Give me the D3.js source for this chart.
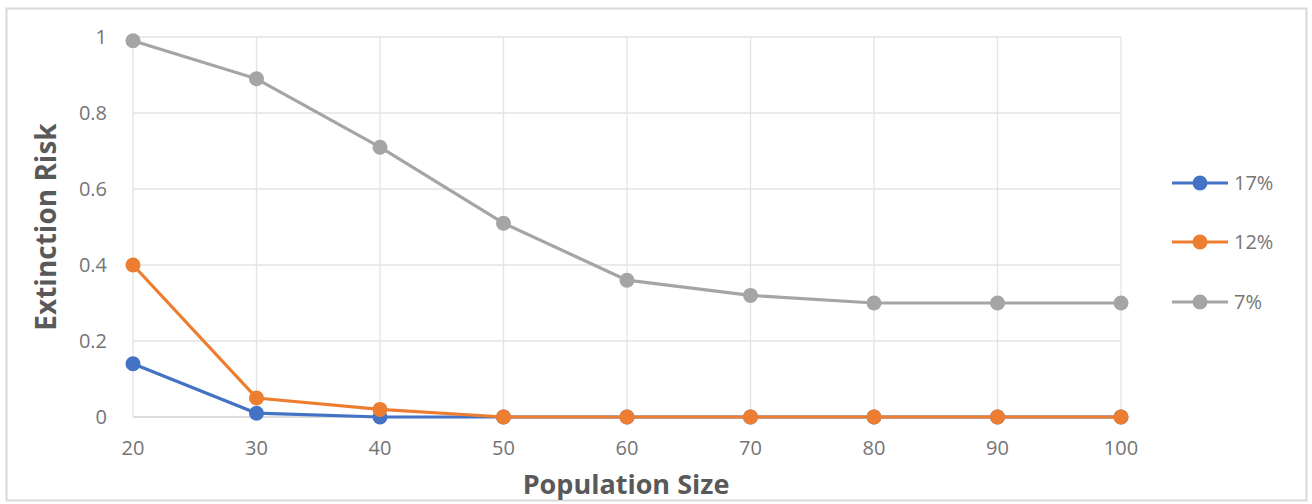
<!DOCTYPE html>
<html><head><meta charset="utf-8">
<script src="https://cdn.jsdelivr.net/npm/d3@7"></script>
<style>body{margin:0;background:#fff;}svg{display:block;font-family:"Open Sans","Noto Sans",sans-serif;}</style>
</head><body><svg id="c" width="1312" height="504"></svg>
<script>
const popSizes = [20, 30, 40, 50, 60, 70, 80, 90, 100];
const s17 = [0.14, 0.01, 0, 0, 0, 0, 0, 0, 0];
const s12 = [0.40, 0.05, 0.02, 0, 0, 0, 0, 0, 0];
const s7  = [0.99, 0.89, 0.71, 0.51, 0.36, 0.32, 0.30, 0.30, 0.30];
const seriesNames = ["17%", "12%", "7%"];
const seriesColors = ["#4472C4", "#ED7D31", "#A5A5A5"];
const yTicks = [0, 0.2, 0.4, 0.6, 0.8, 1];
const yTickLabels = ["0", "0.2", "0.4", "0.6", "0.8", "1"];

const series = [s17, s12, s7];
const svg = d3.select("#c");
svg.append("rect").attr("x",6.5).attr("y",8.5).attr("width",1300).attr("height",492)
  .attr("fill","#fff").attr("stroke","#d9d9d9").attr("stroke-width",2);

const x = d3.scaleLinear().domain([20,100]).range([133,1121]);
const y = d3.scaleLinear().domain([0,1]).range([417,37]);
const g = svg.append("g");

// gridlines
g.selectAll(".hg").data(yTicks).join("line")
  .attr("x1",x(20)).attr("x2",x(100)).attr("y1",d=>y(d)).attr("y2",d=>y(d))
  .attr("stroke",d=>d===0?"#d0d0d0":"#e3e3e3").attr("stroke-width",1.3);
g.selectAll(".vg").data(popSizes).join("line")
  .attr("x1",d=>x(d)).attr("x2",d=>x(d)).attr("y1",y(0)).attr("y2",y(1))
  .attr("stroke","#e3e3e3").attr("stroke-width",1.3);

// tick labels
g.selectAll(".yt").data(yTicks).join("text")
  .attr("x",107).attr("y",d=>y(d)).attr("dy","0.35em").attr("text-anchor","end")
  .attr("fill","#757575").attr("font-size",20).text((d,i)=>yTickLabels[i]);
g.selectAll(".xt").data(popSizes).join("text")
  .attr("x",d=>x(d)).attr("y",455).attr("text-anchor","middle")
  .attr("fill","#757575").attr("font-size",20).text(d=>d);

// axis titles
svg.append("text").attr("x",626).attr("y",494).attr("text-anchor","middle")
  .attr("fill","#595959").attr("font-size",27).attr("font-weight","bold").text("Population Size");
svg.append("text").attr("transform","translate(56,"+y(0.5)+") rotate(-90)").attr("text-anchor","middle")
  .attr("fill","#595959").attr("font-size",28).attr("font-weight","bold").text("Extinction Risk");

const line = d3.line().x((d,i)=>x(popSizes[i])).y(d=>y(d));
const drawOrder = [2, 0, 1];
drawOrder.forEach(k=>{
  const sg = g.append("g");
  sg.append("path").datum(series[k]).attr("d",line).attr("fill","none")
    .attr("stroke",seriesColors[k]).attr("stroke-width",3.2).attr("stroke-linejoin","round");
  sg.selectAll("circle").data(series[k]).join("circle")
    .attr("cx",(d,i)=>x(popSizes[i])).attr("cy",d=>y(d)).attr("r",7.5)
    .attr("fill",seriesColors[k]);
});

// legend
const legY = [183, 242, 302];
seriesNames.forEach((n,i)=>{
  const lg = svg.append("g");
  lg.append("line").attr("x1",1172).attr("x2",1228).attr("y1",legY[i]).attr("y2",legY[i])
    .attr("stroke",seriesColors[i]).attr("stroke-width",3.2);
  lg.append("circle").attr("cx",1200).attr("cy",legY[i]).attr("r",7.5).attr("fill",seriesColors[i]);
  lg.append("text").attr("x",1234).attr("y",legY[i]).attr("dy","0.35em")
    .attr("fill","#757575").attr("font-size",20).text(n);
});
</script></body></html>
